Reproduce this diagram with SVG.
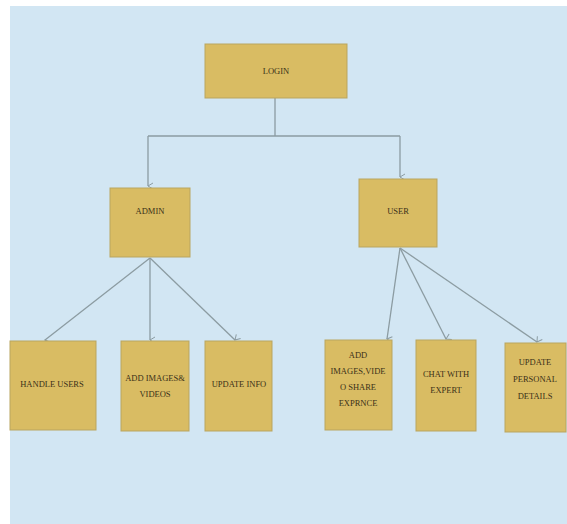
<svg xmlns="http://www.w3.org/2000/svg" width="567" height="524" viewBox="0 0 567 524">
<defs>
<marker id="ah" markerWidth="8" markerHeight="8" refX="4" refY="7" orient="auto" markerUnits="userSpaceOnUse" viewBox="0 0 8 8">
<path d="M1,2 L4,7 L7,2" fill="none" stroke="#8c9ca2" stroke-width="1"/>
</marker>
</defs>
<style>
.bx{fill:#d9bc63;stroke:#b9a560;stroke-width:1}
.t{font-family:"Liberation Serif",serif;font-size:8.5px;fill:#3a3018;text-anchor:middle}
.c{fill:none;stroke:#8c9ca2;stroke-width:1.3}
</style>
<rect x="0" y="0" width="567" height="524" fill="#ffffff"/>
<rect x="10" y="6" width="557" height="518" fill="#d2e6f3"/>
<g id="connectors">
<path class="c" d="M275,98 V136 M148,136 H400"/>
<path class="c" d="M148,136 V186" marker-end="url(#ah)"/>
<path class="c" d="M400,136 V177" marker-end="url(#ah)"/>
<path class="c" d="M150,258 L45,340" marker-end="url(#ah)"/>
<path class="c" d="M150,258 L150,340" marker-end="url(#ah)"/>
<path class="c" d="M150,258 L235,340" marker-end="url(#ah)"/>
<path class="c" d="M400,248 L387,339" marker-end="url(#ah)"/>
<path class="c" d="M400,248 L446,339" marker-end="url(#ah)"/>
<path class="c" d="M400,248 L537,342" marker-end="url(#ah)"/>
</g>
<g id="login"><rect class="bx" x="205" y="44" width="142" height="54"/><text class="t" x="276" y="74">LOGIN</text></g>
<g id="admin"><rect class="bx" x="110" y="188" width="80" height="69"/><text class="t" x="150" y="214">ADMIN</text></g>
<g id="user"><rect class="bx" x="359" y="179" width="78" height="68"/><text class="t" x="398" y="214">USER</text></g>
<g id="handle-users"><rect class="bx" x="10" y="341" width="86" height="89"/><text class="t" x="52" y="387">HANDLE USERS</text></g>
<g id="add-images"><rect class="bx" x="121" y="341" width="68" height="90"/><text class="t" x="155" y="381">ADD IMAGES&amp;</text><text class="t" x="155" y="397">VIDEOS</text></g>
<g id="update-info"><rect class="bx" x="205" y="341" width="67" height="90"/><text class="t" x="239" y="387">UPDATE INFO</text></g>
<g id="share"><rect class="bx" x="325" y="340" width="67" height="90"/><text class="t" x="358" y="358">ADD</text><text class="t" x="358" y="374">IMAGES,VIDE</text><text class="t" x="358" y="390">O SHARE</text><text class="t" x="358" y="406">EXPRNCE</text></g>
<g id="chat"><rect class="bx" x="416" y="340" width="60" height="91"/><text class="t" x="446" y="377">CHAT WITH</text><text class="t" x="446" y="393">EXPERT</text></g>
<g id="update-personal"><rect class="bx" x="505" y="343" width="61" height="89"/><text class="t" x="535" y="365">UPDATE</text><text class="t" x="535" y="382">PERSONAL</text><text class="t" x="535" y="399">DETAILS</text></g>
</svg>
